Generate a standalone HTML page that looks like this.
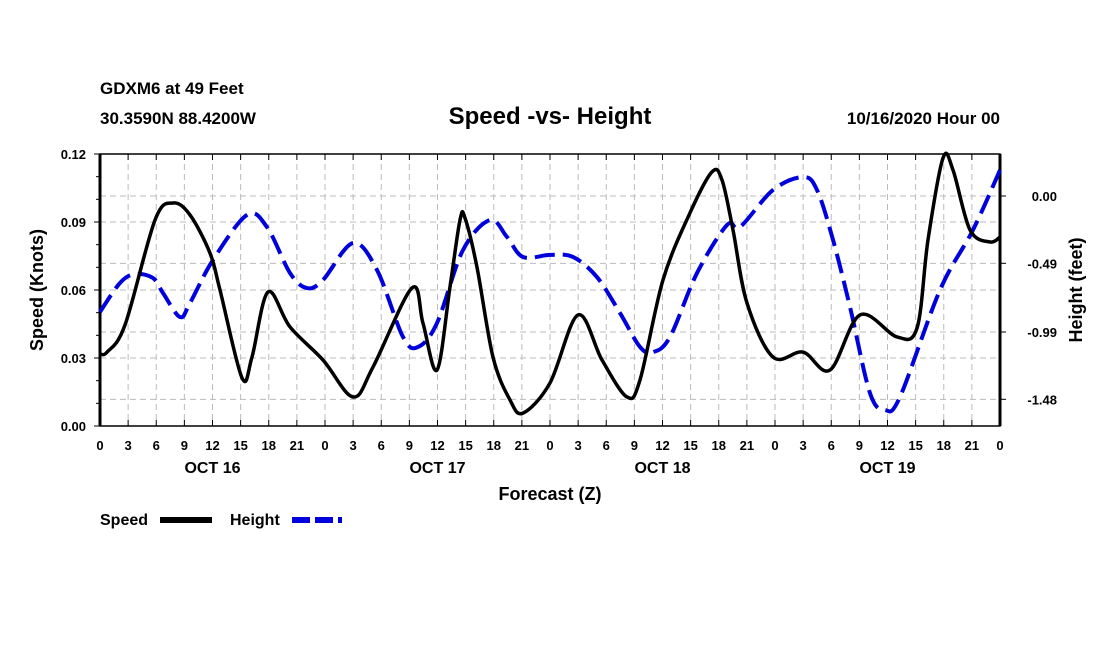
<!DOCTYPE html>
<html><head><meta charset="utf-8"><style>
body{margin:0;background:#fff;}
svg{display:block;font-family:"Liberation Sans",sans-serif;font-weight:bold;}
</style></head><body>
<svg id="chart" width="1100" height="650" viewBox="0 0 1100 650" xmlns="http://www.w3.org/2000/svg">
<rect width="1100" height="650" fill="#fff"/>
<text x="100" y="94" font-size="17">GDXM6 at 49 Feet</text>
<text x="100" y="124" font-size="17">30.3590N 88.4200W</text>
<text x="550" y="124" font-size="24" text-anchor="middle">Speed -vs- Height</text>
<text x="1000" y="124" font-size="17" text-anchor="end">10/16/2020 Hour 00</text>
<g id="grid"></g><g id="axes"></g><g id="series"></g>
<text x="550" y="500" font-size="18" text-anchor="middle">Forecast (Z)</text>
<text transform="translate(43,290) rotate(-90)" font-size="18" text-anchor="middle">Speed (Knots)</text>
<text transform="translate(1082,290) rotate(-90)" font-size="18" text-anchor="middle">Height (feet)</text>
<g>
<text x="100" y="525" font-size="16">Speed</text>
<line x1="160" y1="520" x2="212" y2="520" stroke="#000" stroke-width="6"/>
<text x="230" y="525" font-size="16">Height</text>
<line x1="292" y1="520" x2="342" y2="520" stroke="#0000dd" stroke-width="6" stroke-dasharray="18,5"/>
</g>
</svg>
<script>
const speedHours=[0,0.75,2.67,5.87,7.79,9.6,11.73,12.8,15.15,16.21,17.92,20.27,23.79,26.99,29.12,33.28,34.45,35.95,37.33,38.4,38.93,40.21,41.92,43.73,45.12,48,50.99,53.55,56.21,57.6,60.05,62.93,65.28,66.35,67.52,69.01,71.79,74.99,77.87,81.07,85.01,87.15,88.32,89.92,90.99,92.8,94.93,96];
const speedValues=[0.0318,0.0326,0.0446,0.0909,0.0984,0.0931,0.0763,0.060,0.0212,0.0304,0.0591,0.0437,0.0291,0.0128,0.026,0.0609,0.0454,0.0247,0.0613,0.0909,0.0918,0.0701,0.0304,0.0115,0.0057,0.019,0.049,0.0291,0.0128,0.0203,0.0644,0.094,0.1121,0.1085,0.0865,0.0543,0.0304,0.0326,0.0247,0.049,0.0393,0.0432,0.0821,0.1182,0.1129,0.0865,0.0812,0.0834];
const heightHours=[0,2.13,3.73,5.65,6.72,8.53,9.6,12.05,15.68,17.81,20.27,22.08,23.79,26.99,29.55,32.32,33.92,35.95,38.72,41.6,43.41,45.12,48,50.45,53.01,55.47,57.6,58.99,60.8,63.68,66.88,68.27,71.79,74.99,76.48,78.19,80,82.13,83.73,85.33,89.6,93.12,96];
const heightValues=[-0.844,-0.633,-0.568,-0.597,-0.706,-0.881,-0.779,-0.466,-0.138,-0.226,-0.561,-0.670,-0.611,-0.342,-0.539,-1.026,-1.099,-0.924,-0.393,-0.175,-0.298,-0.444,-0.429,-0.444,-0.590,-0.852,-1.099,-1.136,-1.026,-0.561,-0.211,-0.226,0.044,0.138,0.044,-0.320,-0.808,-1.434,-1.558,-1.463,-0.684,-0.247,0.189];
const xTickLabels=["0","3","6","9","12","15","18","21","0","3","6","9","12","15","18","21","0","3","6","9","12","15","18","21","0","3","6","9","12","15","18","21","0"];
const dayLabels=["OCT 16","OCT 17","OCT 18","OCT 19"];
const leftTicks=[0,0.03,0.06,0.09,0.12];
const rightTicks=[0.00,-0.49,-0.99,-1.48];

const X0=100,X1=1000,Y0=426,Y1=154;
const xS=h=>X0+h/96*(X1-X0);
const yL=v=>Y0-v/0.12*(Y0-Y1);
const yR=v=>196-v/0.495*68;
const NS="http://www.w3.org/2000/svg";
function mk(tag,attrs,parent){const e=document.createElementNS(NS,tag);for(const k in attrs)e.setAttribute(k,attrs[k]);parent.appendChild(e);return e;}
const grid=document.getElementById('grid'),axes=document.getElementById('axes'),series=document.getElementById('series');

// vertical grid + x ticks
xTickLabels.forEach((t,i)=>{
  const x=xS(i*3);
  if(i>0&&i<32){const g=mk('line',{x1:x,x2:x,y1:Y1,y2:Y0,stroke:'#bbb','stroke-width':1,'stroke-dasharray':'6,4'},grid);
  
  }
  mk('line',{x1:x,x2:x,y1:Y0,y2:Y0-6,stroke:'#000','stroke-width':1},axes);
  mk('line',{x1:x,x2:x,y1:Y1,y2:Y1+6,stroke:'#000','stroke-width':1},axes);
  const tx=mk('text',{x:x,y:450,'font-size':13,'text-anchor':'middle'},axes);tx.textContent=t;
  
  
});
dayLabels.forEach((d,i)=>{
  const tx=mk('text',{x:xS(i*24+12),y:473,'font-size':16,'text-anchor':'middle'},axes);tx.textContent=d;
  
  
});
// horizontal grid left
leftTicks.forEach(v=>{
  const y=yL(v);
  if(v>0&&v<0.12){const g=mk('line',{x1:X0,x2:X1,y1:y,y2:y,stroke:'#bbb','stroke-width':1,'stroke-dasharray':'6,4'},grid);
  
  }
  mk('line',{x1:X0-6,x2:X0,y1:y,y2:y,stroke:'#000','stroke-width':1},axes);
  const tx=mk('text',{x:86,y:y+5,'font-size':13,'text-anchor':'end'},axes);tx.textContent=v.toFixed(2);
  
  
});
for(let v=0.01;v<0.12;v+=0.01){mk('line',{x1:X0-4,x2:X0,y1:yL(v),y2:yL(v),stroke:'#000','stroke-width':1},axes);}
rightTicks.forEach(v=>{
  const y=yR(v);
  const g=mk('line',{x1:X0,x2:X1,y1:y,y2:y,stroke:'#bbb','stroke-width':1,'stroke-dasharray':'6,4'},grid);
  
  
  mk('line',{x1:X1,x2:X1+6,y1:y,y2:y,stroke:'#000','stroke-width':1},axes);
  const tx=mk('text',{x:1057,y:y+5,'font-size':13,'text-anchor':'end'},axes);tx.textContent=v.toFixed(2);
  
  
});
// frame
const fr=mk('rect',{x:X0,y:Y1,width:X1-X0,height:Y0-Y1,fill:'none',stroke:'#000','stroke-width':1.5},axes);


mk('line',{x1:X0,x2:X0,y1:Y1,y2:Y0,stroke:'#000','stroke-width':3},axes);
mk('line',{x1:X1,x2:X1,y1:Y1,y2:Y0,stroke:'#000','stroke-width':3},axes);

function smooth(pts){
  let d='M'+pts[0][0]+','+pts[0][1];
  for(let i=0;i<pts.length-1;i++){
    const p0=pts[Math.max(i-1,0)],p1=pts[i],p2=pts[i+1],p3=pts[Math.min(i+2,pts.length-1)];
    const c1=[p1[0]+(p2[0]-p0[0])/6,p1[1]+(p2[1]-p0[1])/6],c2=[p2[0]-(p3[0]-p1[0])/6,p2[1]-(p3[1]-p1[1])/6];
    d+=' C'+c1.join(',')+' '+c2.join(',')+' '+p2.join(',');
  }
  return d;
}
const hp=heightHours.map((h,i)=>[xS(h),yR(heightValues[i])]);
const hl=mk('path',{d:smooth(hp),fill:'none',stroke:'#0000dd','stroke-width':4,'stroke-dasharray':'20,8'},series);


const sp=speedHours.map((h,i)=>[xS(h),yL(speedValues[i])]);
const sl=mk('path',{d:smooth(sp),fill:'none',stroke:'#000','stroke-width':3.5,'stroke-linejoin':'round'},series);


</script>
</body></html>
